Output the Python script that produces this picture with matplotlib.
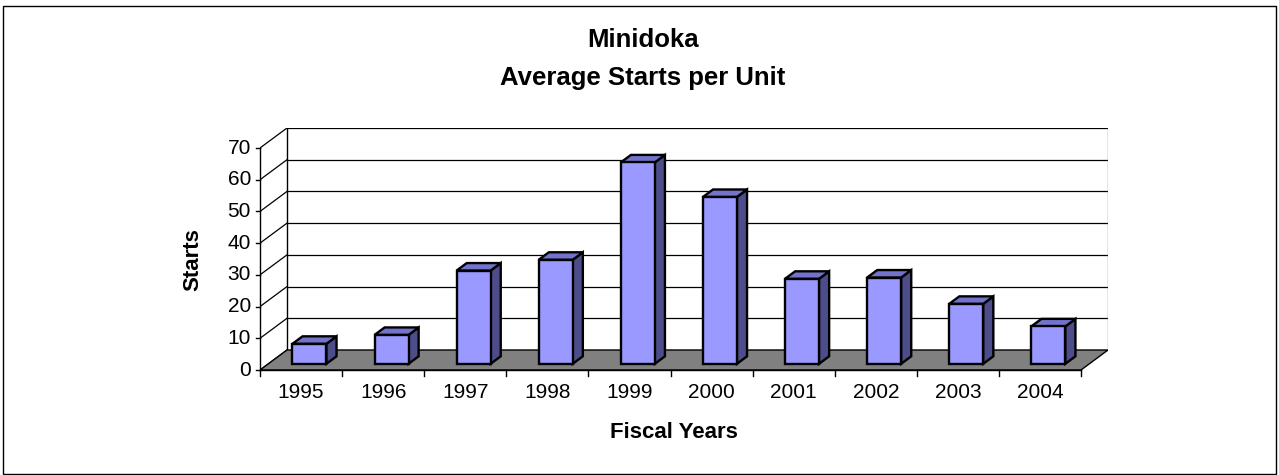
import matplotlib
matplotlib.use('Agg')
import matplotlib.pyplot as plt
from matplotlib.patches import Polygon, Rectangle

# ---- data ----
years = ['1995', '1996', '1997', '1998', '1999', '2000', '2001', '2002', '2003', '2004']
starts = [6.3, 9.1, 29.4, 32.8, 63.5, 52.6, 26.8, 27.2, 18.9, 11.8]
yticks = [0, 10, 20, 30, 40, 50, 60, 70]
title_lines = ['Minidoka', 'Average Starts per Unit']
xlabel = 'Fiscal Years'
ylabel = 'Starts'

plt.rcParams['font.family'] = ['Liberation Sans', 'DejaVu Sans']

W, H = 1279, 475
fig = plt.figure(figsize=(W / 100, H / 100), dpi=100)

# layout (pixels)
front_left, front_right = 260, 1081
zero_y, top_y = 370, 148
depth_px_x, depth_px_y = 27, 20
n = len(years)
ymax = yticks[-1]
px_per_cat = (front_right - front_left) / n
px_per_val = (zero_y - top_y) / ymax
DX = depth_px_x / px_per_cat
DY = depth_px_y / px_per_val

ax_w_px = front_right - front_left + depth_px_x
ax_h_px = zero_y - top_y + depth_px_y
ax = fig.add_axes([front_left / W, 1 - zero_y / H, ax_w_px / W, ax_h_px / H])
ax.set_xlim(0, n + DX)
ax.set_ylim(0, ymax + DY)
ax.axis('off')

# floor
ax.add_patch(Polygon([(0, 0), (n, 0), (n + DX, DY), (DX, DY)], closed=True,
                     facecolor='#808080', edgecolor='black', lw=1.0, zorder=1))
# back wall gridlines
for v in yticks[1:]:
    ax.plot([DX, n + DX], [v + DY, v + DY], color='black', lw=0.9, zorder=0.5)
ax.plot([DX, DX], [DY, ymax + DY], color='black', lw=1.0, zorder=0.5)
ax.plot([n + DX, n + DX], [DY, ymax + DY], color='#808080', lw=1.0, zorder=0.5)
# left wall diagonals
for v in yticks:
    ax.plot([0, DX], [v, v + DY], color='black', lw=0.9, zorder=0.6)
# front value axis
ax.plot([0, 0], [0, ymax], color='black', lw=1.0, clip_on=False, zorder=3)
tick_x = 4 / px_per_cat
for v in yticks:
    ax.plot([-tick_x, 0], [v, v], color='black', lw=1.0, clip_on=False, zorder=3)
    ax.text(-9 / px_per_cat, v, str(v), ha='right', va='center', fontsize=15,
            clip_on=False)
# front category axis
ax.plot([0, n], [0, 0], color='black', lw=1.0, clip_on=False, zorder=3)
tick_y = 6 / px_per_val
for i in range(n + 1):
    ax.plot([i, i], [0, -tick_y], color='black', lw=1.0, clip_on=False, zorder=3)
for i, lab in enumerate(years):
    ax.text(i + 0.5, -23 / px_per_val, lab, ha='center', va='center', fontsize=15,
            clip_on=False)

# bars
BW = 34 / px_per_cat
D0, D1 = 0.31, 0.685
ddx, ddy = (D1 - D0) * DX, (D1 - D0) * DY
front_c, top_c, side_c = '#9999FF', '#7373CC', '#4D4D8C'
for i, v in enumerate(starts):
    x0 = i + 0.5 - BW / 2 + D0 * DX
    y0 = D0 * DY
    kw = dict(closed=True, edgecolor='black', lw=1.7, joinstyle='miter', zorder=5)
    ax.add_patch(Polygon([(x0 + BW, y0), (x0 + BW + ddx, y0 + ddy),
                          (x0 + BW + ddx, y0 + v + ddy), (x0 + BW, y0 + v)],
                         facecolor=side_c, **kw))
    ax.add_patch(Polygon([(x0, y0 + v), (x0 + BW, y0 + v),
                          (x0 + BW + ddx, y0 + v + ddy), (x0 + ddx, y0 + v + ddy)],
                         facecolor=top_c, **kw))
    ax.add_patch(Polygon([(x0, y0), (x0 + BW, y0), (x0 + BW, y0 + v), (x0, y0 + v)],
                         facecolor=front_c, **kw))

# titles
fig.text(643 / W, 1 - 40 / H, title_lines[0], ha='center', va='center',
         fontsize=18.5, fontweight='bold')
fig.text(643 / W, 1 - 78 / H, title_lines[1], ha='center', va='center',
         fontsize=18.5, fontweight='bold')
fig.text(674 / W, 1 - 433 / H, xlabel, ha='center', va='center',
         fontsize=16, fontweight='bold')
fig.text(193 / W, 1 - 260 / H, ylabel, ha='center', va='center', rotation=90,
         fontsize=16, fontweight='bold')

# outer border
fig.patches.append(Rectangle((3 / W, 1 - 474 / H), 1273 / W, 468 / H,
                             transform=fig.transFigure, fill=False,
                             edgecolor='black', lw=1.0))

fig.savefig('out.png', dpi=100)
